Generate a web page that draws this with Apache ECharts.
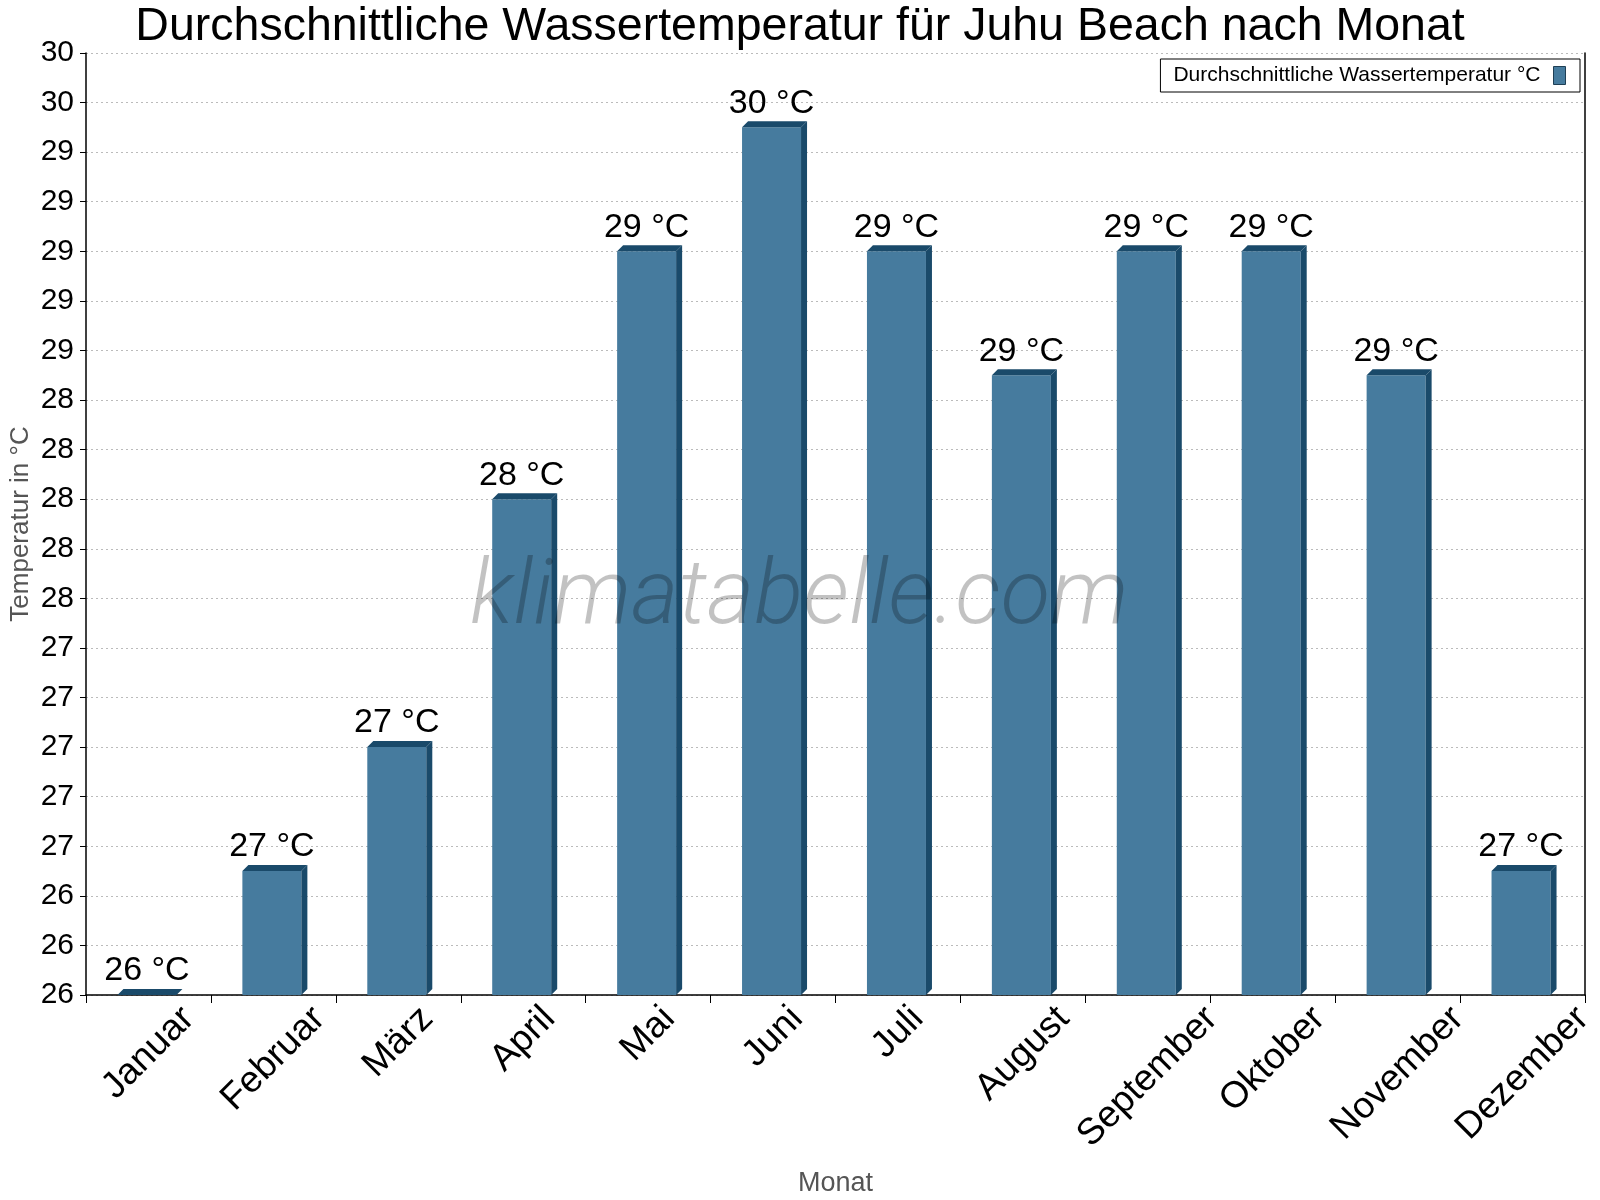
<!DOCTYPE html>
<html>
<head>
<meta charset="utf-8">
<script src="https://cdn.jsdelivr.net/npm/echarts@6/dist/echarts.min.js"></script>
<style>
    html, body { margin: 0; padding: 0; background: #fff; }
    #chart { width: 1600px; height: 1200px; }
</style>
</head>
<body>
<div id="chart"></div>
<script>
// data
const months = ['Januar', 'Februar', 'März', 'April', 'Mai', 'Juni', 'Juli', 'August', 'September', 'Oktober', 'November', 'Dezember']
const waterTemp = [26.0, 26.5, 27.0, 28.0, 29.0, 29.5, 29.0, 28.5, 29.0, 29.0, 28.5, 26.5]
const yMin = 26
const yMax = 29.8
const yStep = 0.2

const font = 'Liberation Sans, Arial, sans-serif'
const frontColor = '#467b9e'
const darkColor = '#1a4a6a'
const xLabelSize = 37

const chart = echarts.init(document.getElementById('chart'))

// the month labels hang centred under their category, top edge fixed,
// so each one gets a padding that depends on its own length
const measure = document.createElement('canvas').getContext('2d')
measure.font = xLabelSize + 'px ' + font
const monthRich = {}
months.forEach((m, i) => {
    const len = measure.measureText(m).width
    const drop = 5 + (len + xLabelSize) * 0.3535
    const p = drop * 1.414
    monthRich['m' + i] = {
        fontFamily: font,
        fontSize: xLabelSize,
        color: '#000',
        padding: [p, p, 0, 0],
    }
})

function renderBar(params, api) {
    const cat = api.value(0)
    const val = api.value(1)
    const top = api.coord([cat, val])
    const base = api.coord([cat, yMin])
    const cx = top[0]
    const w = 59
    const d = 6
    const x0 = cx - 31
    const x1 = x0 + w
    const yt = top[1]
    const yb = base[1]
    return {
        type: 'group',
        children: [
            {
                type: 'rect',
                shape: { x: x0, y: yt, width: w, height: yb - yt },
                style: { fill: frontColor },
            },
            {
                type: 'polygon',
                shape: { points: [[x0, yt], [x0 + d, yt - d], [x1 + d, yt - d], [x1, yt]] },
                style: { fill: darkColor },
            },
            {
                type: 'polygon',
                shape: { points: [[x1, yt], [x1 + d, yt - d], [x1 + d, yb - d], [x1, yb]] },
                style: { fill: darkColor },
            },
            {
                type: 'text',
                style: {
                    text: Math.round(val) + ' °C',
                    x: x0 + w / 2,
                    y: yt - d - 1,
                    align: 'center',
                    verticalAlign: 'bottom',
                    fill: '#000',
                    font: '34px ' + font,
                },
            },
        ],
    }
}

const option = {
    animation: false,
    title: {
        text: 'Durchschnittliche Wassertemperatur für Juhu Beach nach Monat',
        left: 'center',
        top: -1,
        textStyle: { fontFamily: font, fontSize: 46.5, fontWeight: 'normal', color: '#000' },
    },
    legend: {
        right: 20,
        top: 59,
        align: 'right',
        orient: 'horizontal',
        backgroundColor: '#fff',
        borderColor: '#000',
        borderWidth: 1,
        borderRadius: 0,
        padding: [6, 14, 6, 13],
        itemWidth: 12,
        itemHeight: 18,
        itemGap: 10,
        textStyle: { fontFamily: font, fontSize: 21, color: '#000', padding: [0, 8, 0, 0] },
        data: [{
            name: 'Durchschnittliche Wassertemperatur °C',
            icon: 'rect',
            itemStyle: { color: frontColor, borderColor: '#1f3f55', borderWidth: 1 },
        }],
    },
    grid: {
        left: 86,
        right: 15,
        top: 53,
        bottom: 205,
        containLabel: false,
        outerBoundsMode: 'none',
    },
    xAxis: {
        type: 'category',
        data: months,
        boundaryGap: true,
        name: 'Monat',
        nameLocation: 'middle',
        nameGap: 175,
        nameMoveOverlap: false,
        nameTextStyle: { fontFamily: font, fontSize: 27, color: '#555' },
        axisLine: { show: true, lineStyle: { color: '#000', width: 1.5 } },
        axisTick: { show: true, length: 8, alignWithLabel: false, lineStyle: { color: '#000' } },
        axisLabel: {
            rotate: 45,
            margin: 0,
            align: 'center',
            verticalAlign: 'middle',
            interval: 0,
            formatter: (value, i) => '{m' + i + '|' + value + '}',
            rich: monthRich,
        },
        splitLine: { show: false },
    },
    yAxis: [
        {
            type: 'value',
            min: yMin,
            max: yMax,
            interval: yStep,
            name: 'Temperatur in °C',
            nameLocation: 'middle',
            nameGap: 52,
            nameMoveOverlap: false,
            nameTextStyle: { fontFamily: font, fontSize: 26, color: '#555' },
            axisLine: { show: true, lineStyle: { color: '#000', width: 1.5 } },
            axisTick: { show: true, length: 6, lineStyle: { color: '#000' } },
            axisLabel: {
                margin: 12,
                fontFamily: font,
                fontSize: 30,
                color: '#000',
                formatter: (v) => String(Math.round(v)),
            },
            splitLine: { show: true, lineStyle: { color: '#bbb', type: [2, 3], width: 1 } },
        },
        {
            type: 'value',
            min: yMin,
            max: yMax,
            interval: yStep,
            position: 'right',
            axisLine: { show: true, lineStyle: { color: '#000', width: 1.5 } },
            axisTick: { show: false },
            axisLabel: { show: false },
            splitLine: { show: false },
        },
    ],
    graphic: [{
        type: 'text',
        left: 470,
        top: 555,
        z: 100,
        silent: true,
        style: {
            text: 'klimatabelle.com',
            font: 'italic 300 91px Roboto, ' + font,
            fill: 'rgba(0, 0, 0, 0.24)',
        },
    }],
    series: [{
        name: 'Durchschnittliche Wassertemperatur °C',
        type: 'custom',
        renderItem: renderBar,
        itemStyle: { color: frontColor },
        encode: { x: 0, y: 1 },
        data: months.map((m, i) => [i, waterTemp[i]]),
        clip: false,
    }],
}

chart.setOption(option)
</script>
</body>
</html>
